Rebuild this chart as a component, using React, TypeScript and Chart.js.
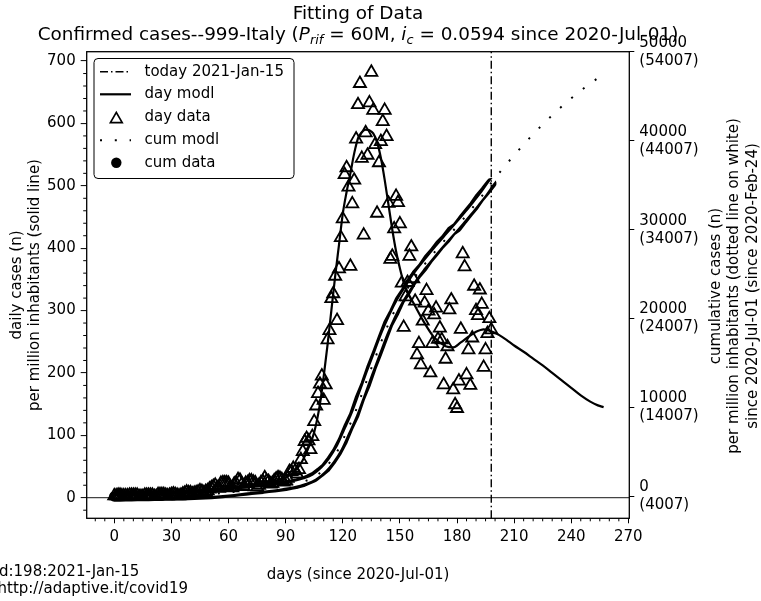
import React, { useEffect, useRef } from 'react';
import { Chart, registerables } from 'chart.js';

Chart.register(...registerables);

const FONT = "'DejaVu Sans', 'Liberation Sans', sans-serif";

// ---- daily confirmed cases per million (day data), day 0 .. 198 ----
const dailyCases = [
  3, 3, 4, 4, 3, 3, 3, 3, 4, 4,
  4, 4, 4, 2, 2, 2, 4, 4, 4, 4,
  4, 2, 2, 5, 5, 5, 5, 4, 3, 4,
  5, 6, 5, 4, 3, 4, 6, 7, 9, 8,
  8, 6, 7, 8, 9, 11, 10, 8, 10, 11,
  14, 16, 18, 20, 16, 15, 23, 24, 24, 24,
  23, 17, 16, 22, 23, 29, 28, 22, 18, 23,
  24, 27, 27, 25, 24, 17, 20, 24, 26, 32,
  27, 26, 22, 23, 27, 30, 32, 31, 29, 25,
  27, 31, 42, 42, 47, 43, 38, 45, 61, 74,
  90, 95, 91, 77, 98, 122, 147, 167, 182, 195,
  156, 181, 253, 268, 319, 327, 355, 284, 367, 417,
  447, 518, 529, 498, 371, 471, 509, 575, 630, 664,
  544, 421, 585, 549, 633, 682, 621, 566, 456, 537,
  571, 603, 621, 579, 472, 382, 387, 431, 483, 473,
  439, 344, 273, 322, 345, 387, 402, 351, 315, 229,
  247, 213, 283, 312, 332, 299, 200, 247, 293, 304,
  254, 272, 253, 181, 222, 242, 301, 317, 173, 149,
  143, 187, 270, 391, 370, 197, 237, 180, 256, 339,
  300, 292, 333, 310, 209, 237, 263, 287, 269,
];

// ---- day model (solid line) ----
const modelDays = [0, 20, 40, 50, 60, 70, 80, 88, 94, 98, 102, 105, 108, 110, 112, 114, 116, 118, 120, 122, 124, 126, 128, 130, 132, 134, 136, 138, 140, 142, 144, 146, 148, 150, 152, 154, 157, 162, 168, 174, 178, 182, 186, 190, 194, 198, 202, 206, 210, 215, 220, 225, 230, 235, 240, 245, 250, 254, 257];
const modelDaily = [4, 5, 8, 11, 15, 20, 25, 30, 40, 55, 80, 105, 150, 195, 245, 300, 355, 405, 455, 490, 520, 552, 576, 586, 590, 589, 584, 570, 545, 510, 470, 430, 395, 368, 345, 330, 313, 285, 257, 243, 241, 249, 258, 266, 270, 267, 261, 253, 244, 234, 223, 212, 200, 188, 176, 164, 154, 148, 145];

// ---- cumulative data (filled circles) ----
const cumDataDays = [0, 3, 6, 9, 12, 15, 18, 21, 24, 27, 30, 33, 36, 39, 42, 45, 48, 51, 54, 57, 60, 63, 66, 69, 72, 75, 78, 81, 84, 87, 90, 93, 96, 99, 102, 105, 108, 111, 114, 117, 120, 123, 126, 129, 132, 135, 138, 141, 144, 147, 150, 153, 156, 159, 162, 165, 168, 171, 174, 177, 180, 183, 186, 189, 192, 195, 198];
const cumData = [3, 14, 23, 34, 46, 52, 64, 74, 86, 100, 112, 127, 140, 164, 185, 213, 241, 282, 336, 398, 469, 524, 604, 667, 745, 811, 881, 966, 1038, 1131, 1212, 1327, 1455, 1635, 1911, 2208, 2704, 3236, 4076, 5042, 6273, 7818, 9169, 11038, 12588, 14452, 16095, 17806, 19478, 20678, 22073, 23012, 24146, 25041, 25784, 26727, 27467, 28297, 28953, 29813, 30278, 31126, 31930, 32705, 33630, 34386, 35205];

// ---- cumulative model (dotted line on white) ----
const cumModelDays = [0, 15, 30, 45, 60, 70, 80, 88, 94, 100, 105, 110, 114, 118, 122, 126, 130, 134, 138, 142, 146, 150, 154, 158, 162, 166, 170, 174, 178, 182, 186, 190, 194, 198, 202, 206, 210, 215, 220, 225, 230, 235, 240, 245, 250, 254, 257];
const cumModel = [0, 55, 115, 210, 450, 690, 935, 1160, 1370, 1720, 2180, 3050, 4070, 5420, 7280, 9180, 11500, 13850, 16120, 18380, 20320, 22000, 23380, 24720, 25840, 26900, 27930, 28920, 29880, 30870, 31890, 32950, 34030, 35250, 36320, 37360, 38360, 39570, 40720, 41820, 42860, 43840, 44760, 45620, 46430, 47040, 47600];

const todayDay = 198;

// ---- ticks ----
const xMajorTicks = [0, 30, 60, 90, 120, 150, 180, 210, 240, 270];
const yMajorTicks = [0, 100, 200, 300, 400, 500, 600, 700];
const y2MajorTicks = [0, 10000, 20000, 30000, 40000, 50000];
const y2TickLabels = [
  ['0', '(4007)'],
  ['10000', '(14007)'],
  ['20000', '(24007)'],
  ['30000', '(34007)'],
  ['40000', '(44007)'],
  ['50000', '(54007)'],
];
const xMinorStep = 5;
const yMinorStep = 20;

// ---- texts ----
const titleLine1 = 'Fitting of Data';
const leftLabel = ['daily cases (n)', 'per million inhabitants (solid line)'];
const rightLabel = ['cumulative cases (n)', 'per million inhabitants (dotted line on white)', 'since 2020-Jul-01 (since 2020-Feb-24)'];
const xLabel = 'days (since 2020-Jul-01)';
const footLines = ['d:198:2021-Jan-15', 'http://adaptive.it/covid19'];
const legendLabels = ['today 2021-Jan-15', 'day modl', 'day data', 'cum modl', 'cum data'];

const X_MIN = -14.5, X_MAX = 270.5;
const Y_MIN = -33, Y_MAX = 715;
const Y2_MIN = -2450, Y2_MAX = 50000;

const TITLE_SIZE = 18.4;

const decorPlugin = {
  id: 'decor',
  afterDraw(chart: any) {
    const { ctx, chartArea: a, scales } = chart;
    const sx = scales.x, sy = scales.y;
    ctx.save();
    // frame
    ctx.strokeStyle = '#000';
    ctx.lineWidth = 1.3;
    ctx.strokeRect(a.left, a.top, a.right - a.left, a.bottom - a.top);

    // minor ticks
    ctx.lineWidth = 1;
    ctx.beginPath();
    for (let v = -10; v <= X_MAX; v += xMinorStep) {
      if (v % 30 === 0) continue;
      const px = sx.getPixelForValue(v);
      ctx.moveTo(px, a.bottom);
      ctx.lineTo(px, a.bottom + 3);
    }
    for (let v = -20; v <= Y_MAX; v += yMinorStep) {
      if (v % 100 === 0) continue;
      const py = sy.getPixelForValue(v);
      ctx.moveTo(a.left, py);
      ctx.lineTo(a.left - 3.5, py);
    }
    ctx.stroke();

    ctx.fillStyle = '#000';
    // title line 1
    ctx.textAlign = 'center';
    ctx.textBaseline = 'alphabetic';
    const cx = (a.left + a.right) / 2;
    ctx.font = `${TITLE_SIZE}px ${FONT}`;
    ctx.fillText(titleLine1, cx, 19);

    // title line 2 with subscripts
    const sub = TITLE_SIZE * 0.7;
    const segs = [
      { t: 'Confirmed cases--999-Italy (', s: TITLE_SIZE, i: false, dy: 0 },
      { t: 'P', s: TITLE_SIZE, i: true, dy: 0 },
      { t: 'rif', s: sub, i: true, dy: 3.5 },
      { t: ' = 60M, ', s: TITLE_SIZE, i: false, dy: 0 },
      { t: 'i', s: TITLE_SIZE, i: true, dy: 0 },
      { t: 'c', s: sub, i: true, dy: 3.5 },
      { t: ' = 0.0594 since 2020-Jul-01)', s: TITLE_SIZE, i: false, dy: 0 },
    ];
    let total = 0;
    const widths: number[] = [];
    for (const sg of segs) {
      ctx.font = `${sg.i ? 'italic ' : ''}${sg.s}px ${FONT}`;
      const w = ctx.measureText(sg.t).width;
      widths.push(w);
      total += w;
    }
    let x = cx - total / 2;
    ctx.textAlign = 'left';
    segs.forEach((sg, k) => {
      ctx.font = `${sg.i ? 'italic ' : ''}${sg.s}px ${FONT}`;
      ctx.fillText(sg.t, x, 40 + sg.dy);
      x += widths[k];
    });

    // axis labels
    ctx.font = `15px ${FONT}`;
    ctx.textAlign = 'center';
    ctx.textBaseline = 'middle';
    const cy = (a.top + a.bottom) / 2;
    const leftX = [17, 35];
    leftLabel.forEach((t, k) => {
      ctx.save();
      ctx.translate(leftX[k], cy);
      ctx.rotate(-Math.PI / 2);
      ctx.fillText(t, 0, 0);
      ctx.restore();
    });
    const rightX = [716, 734.5, 753];
    rightLabel.forEach((t, k) => {
      ctx.save();
      ctx.translate(rightX[k], cy + 1);
      ctx.rotate(-Math.PI / 2);
      ctx.fillText(t, 0, 0);
      ctx.restore();
    });
    ctx.fillText(xLabel, cx, 575);

    // footnotes
    ctx.textAlign = 'left';
    ctx.fillText(footLines[0], -1, 572);
    ctx.fillText(footLines[1], -2.5, 589);

    // legend
    const lx = 94, ly = 58.5, lw = 200, lh = 120;
    ctx.beginPath();
    ctx.roundRect(lx, ly, lw, lh, 4);
    ctx.fillStyle = 'rgba(255,255,255,0.85)';
    ctx.fill();
    ctx.strokeStyle = '#000';
    ctx.lineWidth = 1;
    ctx.stroke();
    const rows = [71.7, 94.3, 117.5, 140.2, 162.8];
    const hx0 = 100, hx1 = 131, hxc = 116.3;
    // today
    ctx.lineWidth = 1.4;
    ctx.setLineDash([8, 3, 1.5, 3]);
    ctx.beginPath(); ctx.moveTo(hx0, rows[0]); ctx.lineTo(hx1, rows[0]); ctx.stroke();
    // day modl
    ctx.setLineDash([]);
    ctx.lineWidth = 2.2;
    ctx.beginPath(); ctx.moveTo(hx0, rows[1]); ctx.lineTo(hx1, rows[1]); ctx.stroke();
    // day data triangle
    ctx.lineWidth = 1.7;
    const r = 6.8;
    ctx.beginPath();
    ctx.moveTo(hxc, rows[2] - r * 0.75);
    ctx.lineTo(hxc + r * 0.866, rows[2] + r * 0.75);
    ctx.lineTo(hxc - r * 0.866, rows[2] + r * 0.75);
    ctx.closePath();
    ctx.stroke();
    // cum modl dots
    ctx.lineWidth = 2;
    ctx.setLineDash([2, 12.8]);
    ctx.beginPath(); ctx.moveTo(hx0, rows[3]); ctx.lineTo(hx1, rows[3]); ctx.stroke();
    ctx.setLineDash([]);
    // cum data circle
    ctx.fillStyle = '#000';
    ctx.beginPath(); ctx.arc(hxc, rows[4], 5.2, 0, Math.PI * 2); ctx.fill();
    // legend texts
    ctx.font = `15px ${FONT}`;
    ctx.textAlign = 'left';
    ctx.textBaseline = 'middle';
    legendLabels.forEach((t, k) => ctx.fillText(t, 144.5, rows[k]));

    ctx.restore();
  },
};

export default function App() {
  const ref = useRef<HTMLCanvasElement>(null);
  useEffect(() => {
    const tickFont = { family: FONT, size: 15 };
    const chart = new Chart(ref.current as HTMLCanvasElement, {
      type: 'line',
      data: {
        datasets: [
          {
            label: legendLabels[0],
            data: [{ x: todayDay, y: Y_MIN }, { x: todayDay, y: Y_MAX }],
            yAxisID: 'y',
            borderColor: '#000',
            borderWidth: 1.4,
            borderDash: [8, 3, 1.5, 3],
            pointRadius: 0,
            order: 0,
          },
          {
            label: legendLabels[1],
            data: modelDays.map((d, i) => ({ x: d, y: modelDaily[i] })),
            yAxisID: 'y',
            borderColor: '#000',
            borderWidth: 2.2,
            pointRadius: 0,
            cubicInterpolationMode: 'monotone',
            order: 1,
          },
          {
            label: legendLabels[2],
            data: dailyCases.map((v, i) => ({ x: i, y: v })),
            yAxisID: 'y',
            showLine: false,
            pointStyle: 'triangle',
            pointRadius: 7,
            pointBorderWidth: 1.8,
            pointBorderColor: '#000',
            pointBackgroundColor: 'rgba(0,0,0,0)',
            order: 2,
          },
          {
            label: legendLabels[3],
            data: cumModelDays.map((d, i) => ({ x: d, y: cumModel[i] })),
            yAxisID: 'y2',
            borderColor: '#000',
            borderWidth: 2,
            borderDash: [2, 12.8],
            pointRadius: 0,
            cubicInterpolationMode: 'monotone',
            order: 3,
          },
          {
            label: 'cum modl white',
            data: cumModelDays.map((d, i) => ({ x: d, y: cumModel[i] })),
            yAxisID: 'y2',
            borderColor: '#fff',
            borderWidth: 4,
            pointRadius: 0,
            cubicInterpolationMode: 'monotone',
            order: 4,
          },
          {
            label: legendLabels[4],
            data: cumDataDays.map((d, i) => ({ x: d, y: cumData[i] })),
            yAxisID: 'y2',
            borderColor: '#000',
            borderWidth: 10.5,
            borderCapStyle: 'round',
            borderJoinStyle: 'round',
            pointRadius: 0,
            tension: 0,
            order: 5,
          },
        ] as any,
      },
      options: {
        responsive: false,
        animation: false,
        devicePixelRatio: 1,
        events: [],
        layout: { padding: { left: 0, right: 0, top: 51.7, bottom: 52.7 } },
        plugins: {
          legend: { display: false },
          tooltip: { enabled: false },
          title: { display: false },
        },
        scales: {
          x: {
            type: 'linear',
            min: X_MIN,
            max: X_MAX,
            afterBuildTicks: (s: any) => { s.ticks = xMajorTicks.map((v) => ({ value: v })); },
            afterFit: (s: any) => { s.height = 30; },
            ticks: { font: tickFont, color: '#000', padding: 5, maxRotation: 0, autoSkip: false },
            grid: { drawOnChartArea: false, tickLength: 5, tickColor: '#000', tickWidth: 1 },
            border: { display: false },
          },
          y: {
            type: 'linear',
            position: 'left',
            min: Y_MIN,
            max: Y_MAX,
            afterBuildTicks: (s: any) => { s.ticks = yMajorTicks.map((v) => ({ value: v })); },
            afterFit: (s: any) => { s.width = 86.7; },
            ticks: { font: tickFont, color: '#000', padding: 5, autoSkip: false },
            grid: {
              drawOnChartArea: true,
              color: (c: any) => (c.tick && c.tick.value === 0 ? '#444' : 'rgba(0,0,0,0)'),
              lineWidth: 1.2,
              tickLength: 6,
              tickColor: '#000',
              tickWidth: 1,
            },
            border: { display: false },
          },
          y2: {
            type: 'linear',
            position: 'right',
            min: Y2_MIN,
            max: Y2_MAX,
            afterBuildTicks: (s: any) => { s.ticks = y2MajorTicks.map((v) => ({ value: v })); },
            afterFit: (s: any) => { s.width = 761 - 629.3; },
            ticks: {
              font: tickFont,
              color: '#000',
              padding: 5,
              autoSkip: false,
              callback: (v: any) => {
                const k = y2MajorTicks.indexOf(Number(v));
                return k >= 0 ? y2TickLabels[k] : '';
              },
            },
            grid: { drawOnChartArea: false, tickLength: 5, tickColor: '#000', tickWidth: 1 },
            border: { display: false },
          },
        },
      } as any,
      plugins: [decorPlugin],
    });
    return () => chart.destroy();
  }, []);
  return (
    <div style={{ position: 'absolute', left: 0, top: 0, width: 761, height: 601, background: '#fff' }}>
      <canvas ref={ref} width={761} height={601} style={{ display: 'block', width: 761, height: 601 }} />
    </div>
  );
}
